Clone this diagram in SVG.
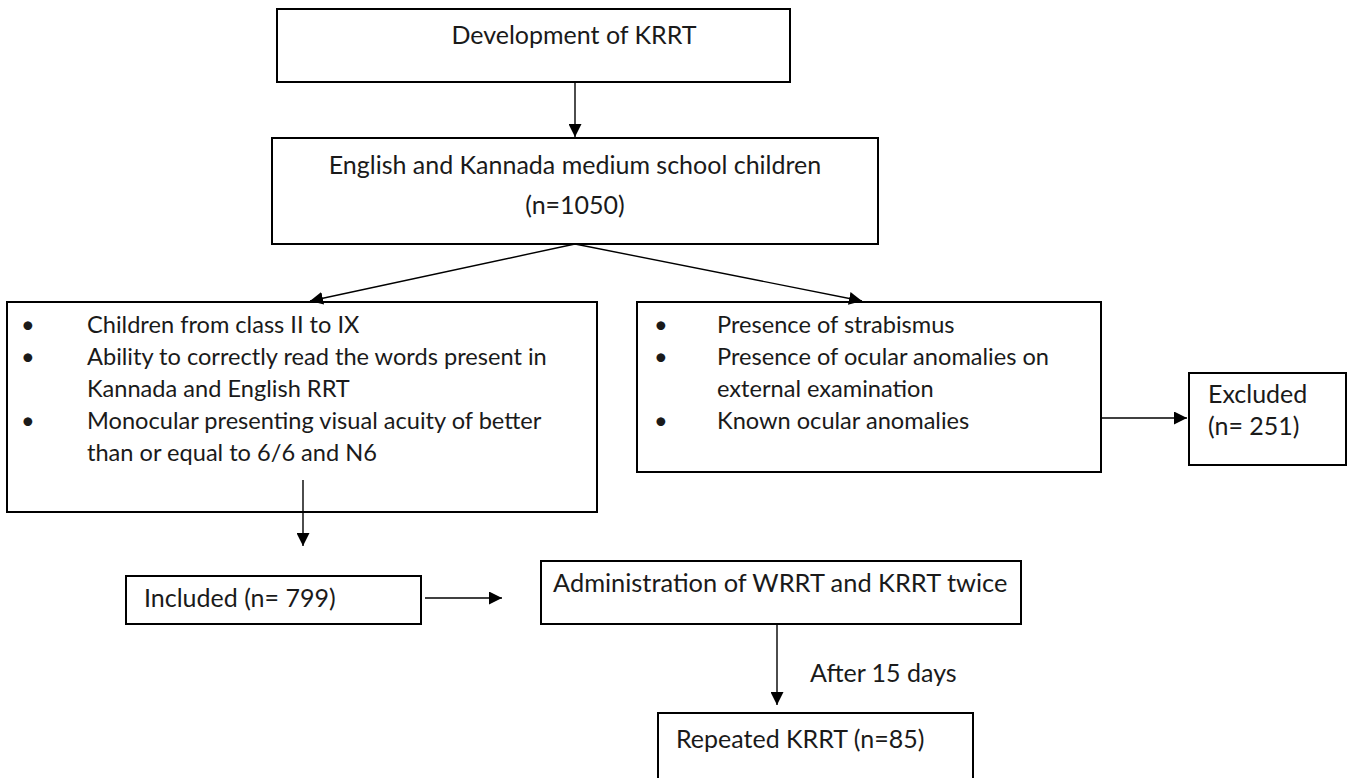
<svg xmlns="http://www.w3.org/2000/svg" width="1349" height="778" viewBox="0 0 1349 778">
<defs>
<style>
.box{fill:#fff;stroke:#000;stroke-width:2}
.t{font-family:Lato,"Liberation Sans",sans-serif;font-size:25px;fill:#1a1a1a}
.b{font-size:23.6px}
.c{stroke:#000;stroke-width:1.4;fill:none}
</style>
<marker id="ah" viewBox="0 0 13 13" refX="13" refY="6.5" markerWidth="13" markerHeight="13" markerUnits="userSpaceOnUse" orient="auto"><path d="M0,0 L13,6.5 L0,13 z" fill="#000"/></marker>
</defs>
<rect width="1349" height="778" fill="#fff"/>
<g id="n1"><rect class="box" x="277" y="9" width="513" height="73"/><text class="t" x="574" y="44" text-anchor="middle">Development of KRRT</text></g>
<g id="n2"><rect class="box" x="272" y="138" width="606" height="106"/><text class="t" x="575" y="174" text-anchor="middle">English and Kannada medium school children</text><text class="t" x="575" y="214" text-anchor="middle">(n=1050)</text></g>
<g id="n3"><rect class="box" x="7" y="302" width="590" height="210"/>
<text class="t b" x="21" y="333">•</text><text class="t b" x="87" y="333">Children from class II to IX</text>
<text class="t b" x="21" y="365">•</text><text class="t b" x="87" y="365">Ability to correctly read the words present in</text>
<text class="t b" x="87" y="397">Kannada and English RRT</text>
<text class="t b" x="21" y="429">•</text><text class="t b" x="87" y="429">Monocular presenting visual acuity of better</text>
<text class="t b" x="87" y="461">than or equal to 6/6 and N6</text></g>
<g id="n4"><rect class="box" x="637" y="302" width="464" height="170"/>
<text class="t b" x="654" y="333">•</text><text class="t b" x="717" y="333">Presence of strabismus</text>
<text class="t b" x="654" y="365">•</text><text class="t b" x="717" y="365">Presence of ocular anomalies on</text>
<text class="t b" x="717" y="397">external examination</text>
<text class="t b" x="654" y="429">•</text><text class="t b" x="717" y="429">Known ocular anomalies</text></g>
<g id="n5"><rect class="box" x="1189" y="373" width="157" height="92"/><text class="t" x="1208" y="403">Excluded</text><text class="t" x="1208" y="435">(n= 251)</text></g>
<g id="n6"><rect class="box" x="126" y="576" width="295" height="48"/><text class="t" x="144" y="607">Included (n= 799)</text></g>
<g id="n7"><rect class="box" x="541" y="561" width="480" height="63"/><text class="t" x="553" y="592" style="font-size:25.4px">Administration of WRRT and KRRT twice</text></g>
<text class="t" x="810" y="682">After 15 days</text>
<g id="n8"><rect class="box" x="658" y="713" width="315" height="80"/><text class="t" x="676" y="748">Repeated KRRT (n=85)</text></g>
<g id="connectors">
<line class="c" x1="575" y1="82" x2="575" y2="137" marker-end="url(#ah)"/>
<line class="c" x1="575" y1="244" x2="310" y2="301" marker-end="url(#ah)"/>
<line class="c" x1="575" y1="244" x2="862" y2="301" marker-end="url(#ah)"/>
<line class="c" x1="1101" y1="418" x2="1187" y2="418" marker-end="url(#ah)"/>
<line class="c" x1="303" y1="480" x2="303" y2="546" marker-end="url(#ah)"/>
<line class="c" x1="425" y1="598" x2="502" y2="598" marker-end="url(#ah)"/>
<line class="c" x1="777" y1="624" x2="777" y2="705" marker-end="url(#ah)"/>
</g>
</svg>
